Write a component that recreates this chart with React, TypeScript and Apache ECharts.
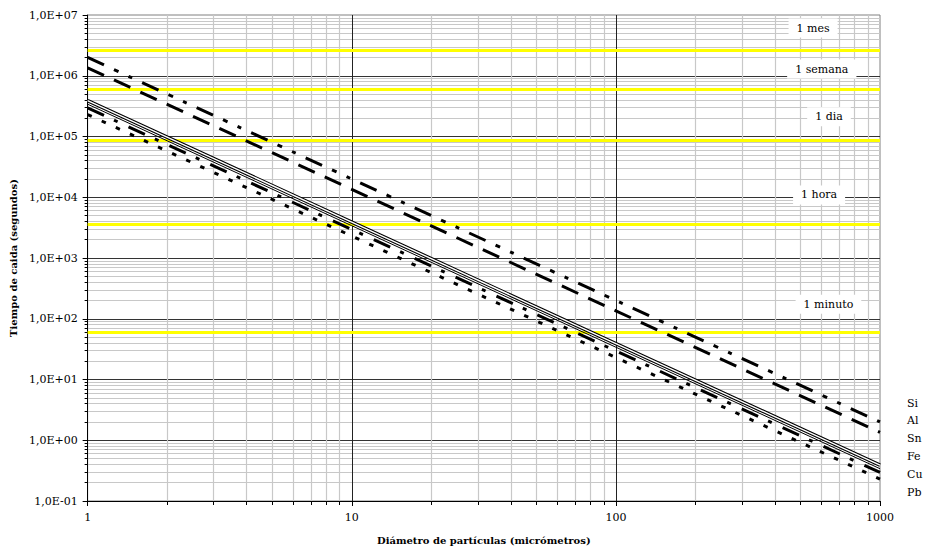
import React, { useEffect, useRef } from "react";
import * as echarts from "echarts";

// ---- data ----
const diameters = [1, 10, 100, 1000];
const seriesNames = ["Si", "Al", "Sn", "Fe", "Cu", "Pb"];
const siTimes = [2.0e6, 2.0e4, 200, 2.0];
const alTimes = [1.35e6, 1.35e4, 135, 1.35];
const snTimes = [3.9e5, 3.9e3, 39, 0.39];
const feTimes = [3.4e5, 3.4e3, 34, 0.34];
const cuTimes = [2.95e5, 2.95e3, 29.5, 0.295];
const pbTimes = [2.3e5, 2.3e3, 23, 0.23];

const refNames = ["1 mes", "1 semana", "1 dia", "1 hora", "1 minuto"];
const refSeconds = [2592000, 604800, 86400, 3600, 60];
// annotation anchor (data coords) for the reference labels
const refLabelX = [558, 602, 641, 588, 638];
const refLabelY = [6.1e6, 1.29e6, 2.12e5, 1.09e4, 173];

const xTickLabels = ["1", "10", "100", "1000"];

const FONT = "'DejaVu Serif', serif";

const pairs = (ys: number[]) => diameters.map((d, i) => [d, ys[i]]);

const fmtSci = (v: number) => {
  const e = Math.round(Math.log10(v));
  const s = e < 0 ? "-" : "+";
  return "1,0E" + s + String(Math.abs(e)).padStart(2, "0");
};

export default function App() {
  const ref = useRef<HTMLDivElement>(null);
  useEffect(() => {
    if (!ref.current) return;
    const chart = echarts.init(ref.current, undefined, { renderer: "svg" });
    const lineBase = (name: string, ys: number[], lineStyle: any, z = 5) => ({
      name,
      type: "line",
      data: pairs(ys),
      symbol: "none",
      silent: true,
      z,
      emphasis: { disabled: true },
      lineStyle: { color: "#000", cap: "butt", ...lineStyle },
    });
    chart.setOption({
      animation: false,
      grid: {
        left: 86,
        top: 15,
        width: 794,
        height: 486,
        show: true,
        borderColor: "#808080",
        borderWidth: 1,
        backgroundColor: "transparent",
      },
      legend: {
        data: seriesNames,
        orient: "vertical",
        left: 902,
        top: 396,
        padding: 0,
        icon: "rect",
        itemWidth: 0,
        itemHeight: 14,
        itemGap: 3.8,
        selectedMode: false,
        itemStyle: { opacity: 0 },
        lineStyle: { opacity: 0 },
        textStyle: { fontFamily: FONT, fontSize: 11, color: "#000", lineHeight: 14 },
      },
      xAxis: {
        type: "log",
        logBase: 10,
        min: 1,
        max: 1000,
        splitNumber: 3,
        axisLine: { show: true, onZero: false, lineStyle: { color: "#000", width: 1 } },
        axisTick: { show: true, length: 5, inside: false, lineStyle: { color: "#000" } },
        minorTick: { show: true, splitNumber: 9, length: 4, lineStyle: { color: "#000" } },
        splitLine: {
          show: true,
          showMinLine: false,
          showMaxLine: false,
          lineStyle: { color: "#222", width: 1 },
        },
        minorSplitLine: { show: true, lineStyle: { color: "#c8c8c8", width: 1.2 } },
        axisLabel: {
          margin: 11,
          fontFamily: FONT,
          fontSize: 11,
          color: "#000",
          formatter: (v: number) => xTickLabels[Math.round(Math.log10(v))] ?? String(v),
        },
        name: "Diámetro de partículas (micrómetros)",
        nameLocation: "middle",
        nameGap: 34,
        nameTextStyle: { fontFamily: FONT, fontWeight: "bold", fontSize: 10, color: "#000" },
      },
      yAxis: {
        type: "log",
        logBase: 10,
        min: 0.1,
        max: 1e7,
        splitNumber: 8,
        axisLine: { show: true, onZero: false, lineStyle: { color: "#000", width: 1 } },
        axisTick: { show: true, length: 5, inside: false, lineStyle: { color: "#000" } },
        minorTick: { show: true, splitNumber: 9, length: 3, lineStyle: { color: "#000" } },
        splitLine: {
          show: true,
          showMinLine: false,
          showMaxLine: false,
          lineStyle: { color: "#333", width: 1 },
        },
        minorSplitLine: { show: true, lineStyle: { color: "#c8c8c8", width: 1 } },
        axisLabel: {
          margin: 10,
          fontFamily: FONT,
          fontSize: 11,
          color: "#000",
          formatter: (v: number) => fmtSci(v),
        },
        name: "Tiempo de caida (segundos)",
        nameLocation: "middle",
        nameGap: 59,
        nameTextStyle: { fontFamily: FONT, fontWeight: "bold", fontSize: 10, color: "#000" },
      },
      series: [
        {
          name: "ref",
          type: "line",
          data: [],
          z: 2,
          silent: true,
          markLine: {
            symbol: ["none", "none"],
            silent: true,
            label: { show: false },
            emphasis: { disabled: true },
            lineStyle: { color: "#ffff00", width: 3, type: "solid" },
            data: refSeconds.map((v) => ({ yAxis: v })),
          },
          markPoint: {
            symbol: "rect",
            symbolSize: 1,
            silent: true,
            itemStyle: { color: "rgba(0,0,0,0)" },
            label: {
              show: true,
              position: "inside",
              formatter: "{b}",
              color: "#000",
              fontFamily: FONT,
              fontSize: 11,
              backgroundColor: "#fff",
              padding: [4, 8],
            },
            data: refNames.map((n, i) => ({ name: n, coord: [refLabelX[i], refLabelY[i]] })),
          },
        },
        lineBase("Si", siTimes, { width: 3, type: [18, 11, 5, 11, 4, 11] }),
        lineBase("Al", alTimes, { width: 3, type: [18, 11] }),
        lineBase("Sn", snTimes, { width: 3.6, type: "solid" }),
        { ...lineBase("Sn_inner", snTimes, { width: 1.4, type: "solid", color: "#fff" }, 6) },
        lineBase("Fe", feTimes, { width: 1, type: "solid" }, 7),
        lineBase("Cu", cuTimes, { width: 3, type: [18, 11, 4, 12] }),
        lineBase("Pb", pbTimes, { width: 3, type: [4.5, 11] }),
      ],
    });
    return () => chart.dispose();
  }, []);
  return (
    <div
      ref={ref}
      style={{ position: "absolute", left: 0, top: 0, width: 928, height: 553 }}
    />
  );
}
